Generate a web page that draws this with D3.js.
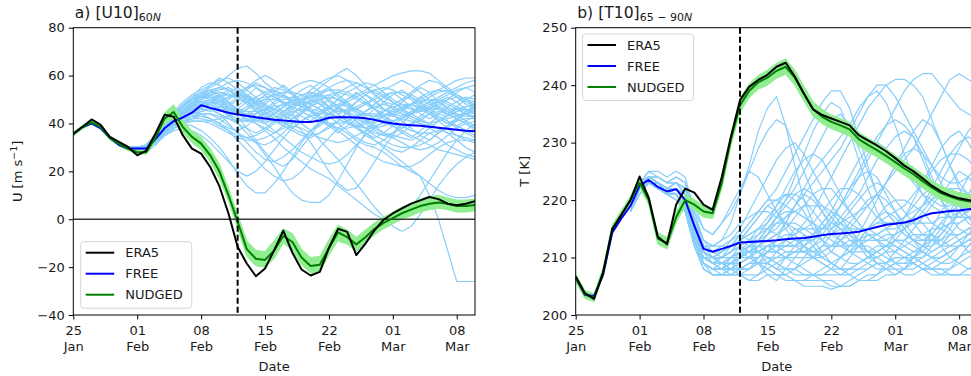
<!DOCTYPE html>
<html>
<head>
<meta charset="utf-8">
<script src="https://cdn.jsdelivr.net/npm/d3@7"></script>
<style>
  body { margin: 0; background: #fff; }
  svg { display: block; }
  text { font-family: "DejaVu Sans", sans-serif; fill: #1a1a1a; }
</style>
</head>
<body>
<svg id="chart" width="971" height="376"></svg>
<script>
// ---- time axis -----------------------------------------------------------
const startDate = new Date(2018, 0, 25);   // first daily value
const endDate = new Date(2018, 2, 10);     // axis end
const eventDate = new Date(2018, 1, 12);   // onset date (dashed line)
const memberStart = 6;                      // ensemble members stored from 31 Jan
const tickDates = [new Date(2018,0,25), new Date(2018,1,1), new Date(2018,1,8),
                   new Date(2018,1,15), new Date(2018,1,22), new Date(2018,2,1), new Date(2018,2,8)];
const tickDays = ["25", "01", "08", "15", "22", "01", "08"];
const tickMonths = ["Jan", "Feb", "Feb", "Feb", "Feb", "Mar", "Mar"];
const seriesNames = ["ERA5", "FREE", "NUDGED"];

// ---- a) zonal-mean zonal wind at 10 hPa, 60N (m/s), daily from 25 Jan ------
const u10Era5 = [35.8,38.5,41.7,39.4,34.4,32.3,30.2,26.7,28.7,35.8,
                 43.6,42.8,35,29.5,27.4,21.8,13.8,2.4,-11.5,-18.5,
                 -23.8,-20.6,-13,-4.8,-14,-21,-23.5,-22,-12,-4,
                 -5.3,-15,-10.2,-4.6,-0.2,2.4,4.5,6.5,7.9,9.3,
                 8.4,6.5,5.8,6.5,7.5];
const u10Free = [35.5,38.5,40,38,34,31,29.5,29.5,29.5,33.5,
                 38,41,42.5,44.5,47.6,46.5,45.5,44.5,43.7,43.2,
                 42.6,42.1,41.6,41.2,40.9,40.6,40.6,41.2,42.4,42.6,
                 42.6,42.5,42.2,41.5,40.6,40,39.6,39.3,39,38.6,
                 38.2,37.8,37.4,37,36.7];
const u10Nudged = [35.5,38.5,40.5,38.5,34,31.5,29.5,28,28,34,
                   42,44.8,38.5,34.4,31.6,26.7,20,10,-1,-12.5,
                   -16.5,-17,-13,-7,-9.5,-16,-19.5,-19,-12,-5.5,
                   -7.5,-10.5,-7.5,-4,-1.5,0.5,2.5,4,5.5,6.5,
                   7,6.5,5.5,5.5,6];
const u10NudgedLo = [34.7,37.7,39.7,37.7,33.2,30.7,28.7,27.2,27.2,32.8,
                     40,42,36,32,29,24,17,7.5,-4,-15.5,
                     -19.5,-20,-16.5,-10,-13,-19,-22.5,-22,-15,-9,
                     -10.5,-13.5,-10,-6.5,-4,-2,0,1.5,3,4,
                     4.5,4,3,3,3.5];
const u10NudgedHi = [36.3,39.3,41.3,39.3,34.8,32.3,30.3,28.8,28.8,35.2,
                     44.5,47.8,41,37,34.2,29.5,23,13,2,-9,
                     -13,-13.5,-9,-4,-6,-12.5,-16,-15.5,-8.5,-2.5,
                     -4.5,-7.5,-4.5,-1.5,1,3,5,6.5,8.5,9.5,
                     10,9,8,8,8.5];
const u10Members = [
  [30,29,31,35,39,44,47,50,53,55, 57,60,63,64,61,57,54,52,50,48, 46,45,47,50,53,55,57,56,53,50, 48,46,45,47,50,52,54,55,53],
  [29,30,29,32,36,40,41,43,45,46, 44,42,40,38,36,38,41,44,47,49, 51,52,50,47,44,42,40,41,43,45, 47,48,46,44,42,40,39,41,43],
  [30,30,30,34,38,42,45,48,51,52, 50,47,43,38,33,28,24,22,25,30, 35,40,44,47,49,51,53,54,52,49, 46,44,42,40,41,43,45,46,44],
  [29,29,28,31,35,38,40,39,37,34, 30,25,19,14,11,11,15,20,26,32, 37,41,44,46,45,43,40,37,35,34, 36,39,42,44,45,44,42,40,38],
  [30,29,30,33,37,41,44,46,47,48, 46,44,40,36,32,27,22,16,11,8, 7,7,10,16,23,30,36,41,45,48, 50,51,49,46,44,43,45,47,48],
  [29,30,31,35,38,42,46,49,51,53, 54,55,53,50,48,47,46,44,41,37, 32,26,20,15,12,13,18,24,30,35, 40,44,47,49,50,48,46,44,43],
  [30,30,30,33,37,40,43,45,47,49, 50,51,52,51,49,48,46,45,43,40, 37,33,29,25,20,15,10,5,1,-3, -5,-3,2,8,14,19,23,26,28],
  [29,29,29,32,36,40,44,47,50,52, 53,52,50,49,51,53,55,54,52,49, 46,43,40,38,36,33,31,30,28,25, 22,20,18,10,0,-13,-26,-26,-26],
  [30,30,31,34,39,43,47,51,55,57, 56,54,52,55,58,60,58,55,52,50, 52,55,58,61,63,60,56,52,49,48, 50,53,56,58,57,54,51,48,46],
  [29,29,30,33,37,41,44,46,48,49, 47,45,44,46,48,50,52,51,49,47, 45,44,46,48,50,52,54,56,58,60, 61,62,62,61,58,55,52,50,49],
  [30,29,29,32,35,38,40,42,44,44, 42,39,36,34,32,31,33,36,40,44, 48,51,52,50,47,44,41,38,36,35, 34,33,35,38,41,44,46,44,42],
  [30,30,31,35,40,45,49,52,54,56, 58,59,57,54,51,48,45,43,42,44, 47,50,52,53,52,50,48,46,44,43, 42,41,40,39,38,36,35,34,33],
  [29,30,30,33,36,39,41,42,43,42, 40,38,37,39,42,45,48,50,51,50, 48,46,43,40,37,34,32,31,33,36, 40,44,48,51,53,54,52,50,47],
  [30,29,30,34,39,44,48,51,53,54, 52,49,46,43,41,40,42,45,48,51, 54,57,59,60,58,55,52,49,46,44, 43,44,46,48,49,47,44,41,39],
  [29,29,29,32,35,38,40,41,41,40, 38,36,34,33,33,34,36,38,39,38, 36,34,33,32,33,35,37,39,40,39, 37,35,33,31,29,28,27,26,25],
  [30,30,31,34,37,41,44,46,47,48, 49,51,53,55,56,55,53,51,50,50, 51,53,54,54,53,51,49,47,46,45, 46,48,50,52,54,56,58,59,59],
  [29,30,29,32,36,40,43,45,46,46, 44,40,36,32,28,25,24,26,29,33, 37,40,42,43,42,40,38,36,35,36, 38,40,41,40,38,36,33,30,28],
  [30,29,30,33,37,41,45,48,50,51, 50,48,46,45,45,46,47,48,47,45, 43,41,40,40,41,43,45,47,48,47, 45,43,41,40,41,42,43,44,45],
  [29,30,30,33,36,40,42,44,45,46, 47,47,46,45,43,40,37,34,31,28, 26,24,23,24,27,31,35,38,41,44, 46,48,49,50,50,49,47,45,44],
  [30,30,30,34,38,42,46,49,52,54, 55,54,51,48,45,43,41,40,40,41, 43,45,47,48,47,45,42,39,36,34, 32,30,29,30,32,35,38,40,41],
  [29,29,30,33,37,41,44,47,49,50, 51,52,53,52,50,47,44,41,38,36, 35,36,38,41,45,49,52,54,55,54, 52,50,47,44,41,38,35,33,32],
  [30,30,29,32,36,39,42,43,44,44, 43,42,41,41,42,44,46,48,49,49, 48,46,44,42,40,39,38,38,39,41, 43,45,46,47,46,44,42,40,38],
  [29,30,31,35,40,44,48,50,51,51, 49,47,45,44,44,46,49,52,55,57, 58,57,55,52,49,46,44,43,43,44, 46,48,51,53,54,53,51,49,47],
  [30,29,30,33,37,40,42,43,43,42, 40,37,33,29,25,21,18,16,17,20, 25,30,34,38,41,43,44,44,43,41, 39,37,36,36,37,39,41,42,42],
  [29,30,30,34,38,42,45,47,48,48, 46,44,42,41,41,42,44,47,50,52, 53,52,50,47,44,41,38,35,33,31, 30,30,31,33,36,39,42,44,45],
  [30,30,30,33,37,41,45,48,51,53, 55,57,58,57,55,53,51,49,48,48, 49,50,51,50,48,46,44,42,41,41, 42,44,45,46,46,45,44,43,43],
  [29,29,30,33,36,39,41,42,42,41, 39,37,35,34,35,37,40,43,45,46, 45,43,40,37,34,31,28,26,24,23, 22,22,24,27,30,32,33,33,33],
  [30,30,31,34,38,42,45,47,49,50, 49,47,45,43,42,41,41,42,44,47, 50,53,55,57,58,57,55,53,51,49, 47,46,45,46,48,50,51,50,48],
  [29,30,30,33,37,41,44,46,48,49, 48,46,44,42,40,37,34,30,27,24, 21,19,17,14,11,8,5,2,0,-1, 1,5,10,16,22,28,33,37,40],
  [30,29,30,34,38,43,47,50,52,53, 53,52,51,50,50,51,52,53,53,52, 50,48,46,45,45,46,48,50,52,53, 53,52,50,48,47,46,46,47,48],
  [29,30,30,32,35,38,40,41,41,41, 42,43,45,47,49,50,50,49,47,45, 43,41,39,38,38,39,41,43,45,47, 48,48,47,45,43,41,39,37,35],
  [30,30,29,32,35,37,38,37,35,32, 28,24,20,18,20,24,29,34,38,41, 43,44,44,43,41,39,36,33,30,27, 24,21,18,15,12,10,9,9,10],
  [30,29,30,34,38,43,47,50,52,51, 48,45,47,51,55,52,48,45,47,50, 53,51,47,44,46,49,52,50,46,43, 45,48,51,49,46,44,47,50,52],
  [29,30,31,33,37,40,44,48,52,56, 59,57,54,50,46,49,53,56,53,49, 45,42,44,47,45,41,38,40,43,46, 49,52,55,53,49,46,43,45,47],
  [30,30,30,33,36,39,42,45,48,50, 52,49,45,41,44,48,51,48,44,40, 37,39,42,46,50,53,50,46,42,39, 36,34,37,40,43,41,38,36,34],
  [29,29,30,34,38,42,45,47,50,53, 51,48,51,54,57,55,52,49,46,43, 41,44,47,50,48,45,43,46,49,52, 54,51,48,45,42,40,42,45,48],
  [30,30,31,35,39,43,46,48,49,47, 45,47,50,52,49,46,44,47,51,54, 56,53,49,46,44,42,45,48,51,53, 50,47,44,42,44,47,49,51,50],
  [29,30,30,33,37,41,43,45,44,42, 40,43,46,49,47,44,41,43,46,49, 52,50,47,44,41,38,40,43,46,44, 41,38,35,33,36,39,42,40,37],
  [30,29,29,33,37,40,43,44,46,49, 52,54,52,49,45,42,44,47,50,48, 45,42,39,36,39,42,45,48,51,49, 46,43,41,44,47,50,53,55,56],
  [29,30,31,34,38,42,46,49,51,50, 48,46,44,42,40,38,36,39,42,45, 47,49,47,44,41,38,35,33,31,29, 28,30,33,36,34,31,29,27,26],
  [30,30,30,33,37,41,44,46,46,45, 47,50,53,51,48,45,42,40,38,41, 44,47,50,53,55,57,55,52,49,46, 44,42,40,38,36,38,41,44,47],
  [29,29,30,33,37,40,43,47,50,52, 50,47,44,46,49,52,54,52,49,47, 49,52,54,51,48,46,48,51,54,56, 58,56,53,50,47,45,43,44,46],
  [30,30,31,34,38,41,44,46,47,48, 46,43,41,43,46,44,41,39,37,35, 34,36,39,41,44,47,49,46,43,40, 38,40,43,46,49,51,49,46,44],
  [29,30,30,33,36,40,43,45,47,49, 51,53,55,52,48,45,43,41,44,47, 50,48,45,42,40,38,36,34,36,39, 42,45,47,49,51,53,55,57,58]
];

// ---- b) polar-cap temperature at 10 hPa, 65-90N (K), daily from 25 Jan ----
const t10Era5 = [206.7,203.8,202.8,207.3,214.9,217.4,220,224.1,220.4,213.6,
                 212.3,219.2,222,221.3,219.2,218.3,224,231,237.4,239.7,
                 240.9,241.8,243.2,243.9,241.5,238.5,235.8,234.8,234.2,233.6,
                 233,231.3,230.4,229.5,228.5,227.3,226,225,223.8,222.5,
                 221.5,220.8,220.3,220,219.8];
const t10Free = [206.5,203.5,203.3,207,214.3,216.8,219,222.5,223.5,222.3,
                 221.5,221.9,220,215.5,211.5,211,211.5,212,212.6,212.7,
                 212.8,212.9,213,213.2,213.3,213.4,213.6,213.9,214.1,214.2,
                 214.3,214.5,214.9,215.3,215.7,215.9,216.1,216.5,217.2,217.7,
                 217.9,218.1,218.2,218.4,218.6];
const t10Nudged = [206.5,203.6,203,207.5,215,217.5,220,223,220,213.3,
                   212.5,217,220,219.2,218,217.7,223,230.5,236.5,239,
                   240.5,241.3,242.5,243.2,241.3,238.5,235.8,234.5,233.6,233,
                   232.3,230.6,229.6,228.7,227.7,226.6,225.5,224.5,223.3,222.2,
                   221.2,220.6,220.1,219.8,219.6];
const t10NudgedLo = [205.8,202.9,202.3,206.8,214.3,216.8,219.3,222.2,219.2,212.3,
                     211.5,216,219,218.3,217,216.8,222,229.5,235.3,237.8,
                     239.3,240,241.2,241.9,240,237.2,234.6,233.3,232.4,231.8,
                     231.1,229.4,228.4,227.5,226.5,225.4,224.3,223.3,222.1,221,
                     220,219.4,218.9,218.6,218.4];
const t10NudgedHi = [207.2,204.3,203.7,208.2,215.7,218.2,220.7,223.8,220.8,214.3,
                     213.5,218,221,220.1,219,218.6,224,231.5,237.7,240.2,
                     241.7,242.6,243.8,244.6,242.6,239.8,237.1,235.8,234.8,234.2,
                     233.5,231.8,230.8,229.9,228.9,227.8,226.7,225.7,224.5,223.4,
                     222.4,221.8,221.3,221,220.8];
const t10Members = [
  [219,222,224,223,221,222,220,215,212,212, 213,216,221,226,232,236,238,233,226,220, 216,213,211,210,211,213,215,217,218,217, 215,213,212,211,212,214,216,217,216],
  [219,223,223,222,221,221,219,214,210,210, 211,212,214,216,218,220,222,225,228,231, 234,237,239,239,236,231,226,221,218,216, 214,213,213,214,216,218,219,220,219],
  [218,222,223,222,221,222,220,215,211,210, 209,209,210,211,212,213,214,216,219,222, 225,227,229,231,233,236,238,239,237,233, 228,224,221,219,218,217,217,218,219],
  [219,222,224,223,222,221,219,213,209,208, 208,209,209,210,211,212,212,213,214,216, 218,221,224,227,230,233,236,238,240,241, 241,240,238,234,230,226,223,221,220],
  [219,223,224,223,222,222,220,214,210,209, 209,208,208,209,210,211,212,212,213,213, 214,215,217,219,221,224,227,230,233,236, 239,241,242,242,240,238,236,235,234],
  [220,222,223,222,221,221,219,214,211,210, 210,210,211,211,212,212,213,214,214,215, 215,215,216,216,217,218,219,221,223,225, 227,229,232,235,238,241,242,241,240],
  [219,223,224,224,223,224,223,219,215,214, 216,219,222,225,224,221,218,215,213,212, 211,211,212,214,216,218,220,221,220,218, 216,214,213,213,214,216,218,220,221],
  [218,222,223,222,221,221,219,213,209,208, 207,207,207,206,206,207,207,206,206,205, 205,205,204.5,205,206,207,208,209,209,210, 210,211,212,213,213,214,214,215,215],
  [219,222,223,223,222,223,221,216,212,211, 211,212,213,214,215,215,214,213,212,211, 210,210,211,213,215,217,219,221,223,226, 229,232,234,233,230,226,222,219,217],
  [219,222,224,223,221,221,218,212,209,208, 208,209,211,213,215,217,219,221,220,218, 215,213,211,210,209,209,210,211,212,213, 213,212,211,210,210,211,212,213,214],
  [220,223,224,223,222,222,220,215,211,210, 211,213,215,218,221,224,227,229,230,228, 225,222,219,217,216,215,215,214,213,212, 211,210,210,211,212,213,214,215,216],
  [219,222,223,222,221,220,218,212,208,207, 207,208,209,210,212,214,216,217,218,219, 219,219,218,216,214,212,210,209,208,208, 208,209,210,212,214,216,218,219,220],
  [219,222,224,223,222,222,220,215,211,210, 211,212,213,214,215,216,218,220,222,225, 228,231,234,235,233,229,225,221,218,216, 214,213,212,212,213,215,218,221,224],
  [218,222,223,222,221,221,219,214,210,209, 209,209,210,210,210,211,211,212,212,212, 211,210,209,208,208,208,208,209,209,210, 210,210,209,208,208,207,207,207,207],
  [219,223,224,224,223,223,222,217,213,212, 213,214,216,217,218,218,217,216,215,215, 216,218,220,222,222,221,219,217,216,216, 217,219,221,222,222,221,219,217,216],
  [219,222,223,222,221,221,219,214,210,209, 209,210,210,211,211,212,212,211,211,211, 212,213,215,217,219,221,224,227,229,231, 232,231,228,224,220,217,215,214,214],
  [220,222,224,223,222,222,221,216,212,211, 212,212,213,212,212,211,211,210,210,210, 210,211,212,212,213,213,214,214,215,215, 216,217,219,222,225,228,230,231,230],
  [219,222,223,222,221,221,219,213,209,208, 208,208,209,210,212,214,217,220,224,228, 232,235,237,236,232,227,222,218,215,213, 212,211,211,210,210,211,212,213,214],
  [219,223,224,223,222,222,219,214,211,210, 210,211,212,213,214,215,216,216,216,215, 214,213,212,212,211,211,211,212,212,213, 213,214,214,215,215,216,216,217,217],
  [218,222,223,222,221,220,218,213,209,208, 208,208,207,207,207,208,209,210,211,212, 213,215,217,219,222,225,228,231,233,234, 233,231,227,223,220,218,217,217,218],
  [219,222,224,224,223,223,222,217,213,212, 212,213,214,216,218,220,220,219,218,217, 216,214,213,212,212,213,215,217,219,220, 220,219,218,216,215,214,214,215,216],
  [219,222,223,223,222,222,220,214,210,209, 209,209,210,211,212,213,214,215,217,219, 221,222,222,220,218,216,214,213,212,211, 210,209,208,208,209,210,212,214,216],
  [219,222,223,222,221,221,218,213,209,208, 208,209,209,210,209,209,208,208,207,207, 207,206,206,205,205,206,206,206,207,207, 208,208,209,210,211,212,213,214,215],
  [220,223,224,223,222,222,220,215,211,210, 210,211,212,213,213,213,212,212,212,213, 214,216,218,221,224,227,229,230,229,227, 225,223,221,220,219,219,220,221,223],
  [219,222,223,222,221,221,219,214,210,209, 210,211,213,215,217,219,220,221,221,220, 218,216,214,213,212,212,213,213,214,214, 215,216,218,220,223,226,229,232,234],
  [219,222,224,223,222,222,220,215,211,210, 209,208,208,208,209,209,210,210,211,211, 211,212,212,213,214,215,215,216,217,218, 219,221,223,225,227,228,228,227,225],
  [218,221,223,222,221,221,218,213,209,208, 208,208,208,209,209,210,210,211,211,211, 210,209,208,208,208,209,210,210,211,211, 212,213,214,214,213,212,212,212,213],
  [219,222,223,223,222,223,222,218,215,214, 216,218,221,225,229,232,234,233,229,225, 221,218,216,215,214,213,213,214,215,216, 217,218,219,220,221,222,222,221,220],
  [219,222,224,223,222,222,220,214,210,209, 209,210,211,212,214,216,219,222,225,227, 228,227,224,221,218,216,214,213,213,214, 215,217,219,221,222,222,221,220,219],
  [219,223,224,223,221,221,219,213,209,208, 208,209,210,211,213,215,217,218,218,217, 216,215,215,216,218,220,222,223,222,220, 218,216,214,213,212,212,213,214,216],
  [219,222,223,223,222,222,220,215,211,210, 210,210,211,212,213,214,215,217,219,221, 223,225,227,229,232,235,238,240,240,238, 235,232,229,226,224,223,223,224,226],
  [219,222,224,223,222,222,220,214,210,209, 209,210,210,211,211,212,212,212,212,213, 213,214,214,215,215,215,215,216,216,216, 216,216,216,216,217,217,218,218,219],
  [219,222,223,222,221,220,218,212,208,207, 207,207,208,208,209,209,208,207,206,206, 206,206,205,205,205,206,207,207,208,209, 209,209,208,208,207,207,207,208,209],
  [218,222,223,222,221,221,218,213,209,208, 208,209,210,211,211,210,209,208,208,207, 207,207,207,207,208,209,210,211,212,212, 211,210,209,208,208,208,209,210,211],
  [219,223,225,224,223,224,223,217,212,210, 209,208,210,212,211,209,208,210,212,214, 213,211,209,208,210,212,214,213,211,209, 208,210,212,214,216,215,213,211,210],
  [219,222,223,223,222,223,222,216,211,209, 208,210,212,211,209,207,206,208,210,212, 214,216,218,217,215,213,211,209,208,207, 208,210,212,215,218,220,219,217,215],
  [218,221,223,222,221,221,219,213,209,207, 207,208,207,206,207,209,211,213,215,214, 212,210,209,208,207,206,206,207,209,211, 213,215,217,219,221,223,225,224,222],
  [219,222,224,223,222,222,220,214,210,209, 210,212,214,213,211,210,209,208,208,209, 210,212,214,216,215,213,211,210,211,213, 215,217,216,214,212,210,209,208,208],
  [220,223,224,223,222,223,221,215,211,210, 209,209,208,208,209,211,213,216,219,221, 220,218,215,213,211,210,209,208,208,209, 210,209,208,207,207,208,210,212,214],
  [219,222,223,222,221,221,219,214,210,209, 208,207,207,208,210,212,211,210,209,208, 207,207,208,210,212,214,217,220,223,226, 228,229,228,226,223,220,218,216,215],
  [219,223,225,225,224,225,224,218,213,211, 210,211,213,215,217,219,218,216,214,212, 210,209,208,207,207,208,209,210,209,208, 207,207,208,209,210,211,212,213,213],
  [218,222,223,222,221,221,218,212,208,207, 207,207,208,209,209,208,207,207,208,210, 212,214,216,219,222,224,225,224,221,218, 215,213,211,210,209,209,210,211,212],
  [219,222,224,223,222,222,220,214,210,209, 209,210,211,212,213,215,217,219,221,222, 221,219,217,215,213,212,211,211,212,214, 217,220,223,226,229,231,232,230,227],
  [219,222,223,222,221,221,219,213,209,208, 209,210,211,210,209,208,207,207,206,206, 207,208,209,210,211,212,212,211,210,209, 209,210,211,213,215,218,221,224,226]
];

// ---- styles ----------------------------------------------------------------
const colors = { era5: "#000000", free: "#0000ff", nudged: "#008000",
                 member: "#87cefa", band: "#90ee90" };

const svg = d3.select("#chart");
const dayDate = i => d3.timeDay.offset(startDate, i);
const minus = v => (v < 0 ? "\u2212" + Math.abs(v) : String(v));

function drawPanel(cfg) {
  const top = 27.7, bottom = 315;
  const x = d3.scaleTime().domain([startDate, endDate]).range([cfg.left, cfg.right]);
  const y = d3.scaleLinear().domain(cfg.yDomain).range([bottom, top]);

  const clipId = "clip-" + cfg.id;
  svg.append("clipPath").attr("id", clipId)
    .append("rect").attr("x", cfg.left).attr("y", top)
    .attr("width", cfg.right - cfg.left).attr("height", bottom - top);

  const plot = svg.append("g").attr("clip-path", `url(#${clipId})`);

  const memberLine = d3.line().x((v, i) => x(dayDate(i + memberStart))).y(v => y(v));
  const seriesLine = d3.line().x((v, i) => x(dayDate(i))).y(v => y(v));

  // FREE ensemble members
  plot.append("g").selectAll("path").data(cfg.members).join("path")
    .attr("d", memberLine)
    .attr("fill", "none").attr("stroke", colors.member)
    .attr("stroke-width", 1.2).attr("stroke-linejoin", "round");

  // NUDGED ensemble envelope
  const band = d3.area()
    .x((v, i) => x(dayDate(i)))
    .y0((v, i) => y(cfg.nudgedLo[i]))
    .y1((v, i) => y(cfg.nudgedHi[i]));
  plot.append("path").datum(cfg.nudgedLo).attr("d", band)
    .attr("fill", colors.band).attr("stroke", colors.band).attr("stroke-width", 1);

  if (cfg.zeroLine) {
    plot.append("line")
      .attr("x1", cfg.left).attr("x2", cfg.right)
      .attr("y1", y(0)).attr("y2", y(0))
      .attr("stroke", "#3a3a3a").attr("stroke-width", 1.3);
  }

  const mains = [
    { data: cfg.free, color: colors.free },
    { data: cfg.nudged, color: colors.nudged },
    { data: cfg.era5, color: colors.era5 }
  ];
  plot.append("g").selectAll("path").data(mains).join("path")
    .attr("d", d => seriesLine(d.data))
    .attr("fill", "none").attr("stroke", d => d.color)
    .attr("stroke-width", 2).attr("stroke-linejoin", "round");

  // onset marker
  plot.append("line")
    .attr("x1", x(eventDate)).attr("x2", x(eventDate))
    .attr("y1", top).attr("y2", bottom)
    .attr("stroke", "#000").attr("stroke-width", 2)
    .attr("stroke-dasharray", "6,3");

  // frame
  svg.append("rect")
    .attr("x", cfg.left).attr("y", top)
    .attr("width", cfg.right - cfg.left).attr("height", bottom - top)
    .attr("fill", "none").attr("stroke", "#000").attr("stroke-width", 1);

  // y axis
  const yAxis = svg.append("g").attr("transform", `translate(${cfg.left},0)`)
    .call(d3.axisLeft(y).tickValues(cfg.yTicks).tickSize(4.5).tickPadding(4).tickFormat(minus));
  yAxis.select(".domain").remove();
  yAxis.selectAll(".tick line").attr("stroke", "#000");
  yAxis.selectAll(".tick text").attr("font-size", 13)
    .attr("font-family", "DejaVu Sans").attr("fill", "#1a1a1a");

  // x axis with two-line labels
  const xAxis = svg.append("g").attr("transform", `translate(0,${bottom})`)
    .call(d3.axisBottom(x).tickValues(tickDates).tickSize(4.5).tickFormat(() => ""));
  xAxis.select(".domain").remove();
  xAxis.selectAll(".tick line").attr("stroke", "#000");
  xAxis.selectAll(".tick").each(function (d, i) {
    const t = d3.select(this).append("text")
      .attr("text-anchor", "middle").attr("font-size", 13)
      .attr("font-family", "DejaVu Sans").attr("fill", "#1a1a1a");
    t.append("tspan").attr("x", 0).attr("y", 20).text(tickDays[i]);
    t.append("tspan").attr("x", 0).attr("y", 35.5).text(tickMonths[i]);
  });

  svg.append("text").attr("x", (cfg.left + Math.min(cfg.right, 971)) / 2 + cfg.dateShift)
    .attr("y", 370.5).attr("text-anchor", "middle").attr("font-size", 13).text("Date");

  // y label
  const yl = svg.append("text")
    .attr("transform", `translate(${cfg.yLabelX},${(top + bottom) / 2}) rotate(-90)`)
    .attr("text-anchor", "middle").attr("font-size", 13);
  cfg.yLabel(yl);

  // title
  const title = svg.append("text").attr("x", cfg.left + 1.5).attr("y", 17.5).attr("font-size", 15.6);
  title.append("tspan").text(cfg.titleMain);
  title.append("tspan").attr("font-size", 11).attr("dy", 3.5).text(cfg.titleSub);
  title.append("tspan").attr("font-size", 11).attr("font-style", "italic").text("N");

  // legend
  const lg = svg.append("g").attr("transform", `translate(${cfg.legendX},${cfg.legendY})`);
  lg.append("rect").attr("width", 111).attr("height", 66.5).attr("rx", 3)
    .attr("fill", "#fff").attr("fill-opacity", 0.8)
    .attr("stroke", "#d6d6d6").attr("stroke-width", 1);
  const rows = [colors.era5, colors.free, colors.nudged];
  rows.forEach((c, i) => {
    const yy = 11 + i * 21;
    lg.append("line").attr("x1", 5).attr("x2", 33.5).attr("y1", yy).attr("y2", yy)
      .attr("stroke", c).attr("stroke-width", 2);
    lg.append("text").attr("x", 44.5).attr("y", yy + 4.7).attr("font-size", 13).text(seriesNames[i]);
  });
}

drawPanel({
  id: "u10", left: 73.3, right: 475, yDomain: [-40, 80], yTicks: d3.range(-40, 81, 20),
  members: u10Members, era5: u10Era5, free: u10Free, nudged: u10Nudged,
  nudgedLo: u10NudgedLo, nudgedHi: u10NudgedHi, zeroLine: true,
  titleMain: "a) [U10]", titleSub: "60",
  yLabelX: 22, dateShift: 0,
  yLabel: t => {
    t.append("tspan").text("U [m s");
    t.append("tspan").attr("font-size", 9.5).attr("dy", -5).text("\u22121");
    t.append("tspan").attr("dy", 5).text("]");
  },
  legendX: 80.7, legendY: 241.7
});

drawPanel({
  id: "t10", left: 575.7, right: 977.4, yDomain: [200, 250], yTicks: d3.range(200, 251, 10),
  members: t10Members, era5: t10Era5, free: t10Free, nudged: t10Nudged,
  nudgedLo: t10NudgedLo, nudgedHi: t10NudgedHi, zeroLine: false,
  titleMain: "b) [T10]", titleSub: "65 \u2212 90",
  yLabelX: 529, dateShift: 3.5,
  yLabel: t => t.text("T [K]"),
  legendX: 582.5, legendY: 34
});
</script>
</body>
</html>
